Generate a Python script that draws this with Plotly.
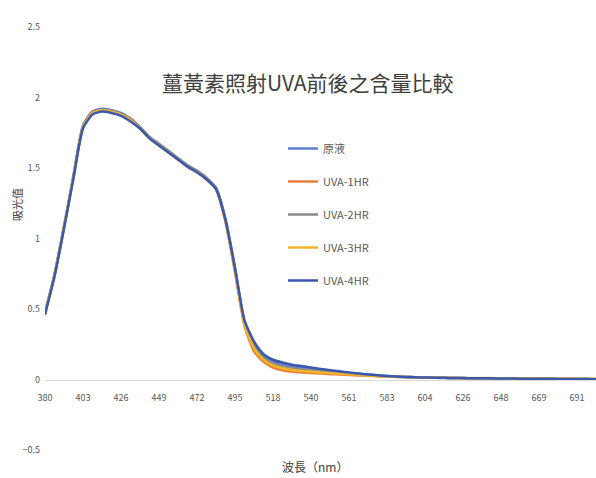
import plotly.graph_objects as go

# Wavelength categories (nm); tick labels are shown on every fourth one
wavelengths = [
    380, 386, 392, 397, 403, 409, 415, 420, 426, 432, 438, 443, 449, 455, 461,
    466, 472, 478, 484, 489, 495, 501, 507, 512, 518, 524, 529, 535, 540, 545,
    551, 556, 561, 567, 572, 578, 583, 588, 594, 599, 604, 610, 615, 621, 626,
    632, 637, 643, 648, 653, 659, 664, 669, 674, 680, 685, 691, 696, 702,
]
tick_wavelengths = [380, 403, 426, 449, 472, 495, 518, 540, 561, 583, 604, 626, 648, 669, 691]

abs_raw = [
    0.47, 0.74, 1.08, 1.44, 1.80, 1.90, 1.92, 1.91, 1.89, 1.85, 1.79, 1.72, 1.67, 1.62, 1.57,
    1.52, 1.48, 1.43, 1.36, 1.14, 0.79, 0.41, 0.26, 0.17, 0.13, 0.11, 0.095, 0.085, 0.077, 0.068,
    0.060, 0.053, 0.046, 0.040, 0.034, 0.029, 0.024, 0.021, 0.018, 0.016, 0.014, 0.013, 0.012, 0.011, 0.010,
    0.009, 0.009, 0.008, 0.007, 0.007, 0.006, 0.006, 0.005, 0.005, 0.004, 0.004, 0.003, 0.003, 0.002,
]
abs_1hr = [
    0.47, 0.74, 1.08, 1.44, 1.79, 1.89, 1.91, 1.90, 1.88, 1.84, 1.78, 1.71, 1.66, 1.61, 1.56,
    1.51, 1.47, 1.42, 1.35, 1.12, 0.76, 0.38, 0.20, 0.125, 0.085, 0.065, 0.055, 0.050, 0.046, 0.042,
    0.038, 0.035, 0.032, 0.029, 0.026, 0.023, 0.020, 0.018, 0.016, 0.014, 0.013, 0.012, 0.011, 0.010, 0.009,
    0.008, 0.008, 0.007, 0.007, 0.006, 0.006, 0.005, 0.005, 0.004, 0.004, 0.004, 0.003, 0.003, 0.002,
]
abs_2hr = [
    0.48, 0.75, 1.09, 1.45, 1.80, 1.90, 1.91, 1.91, 1.88, 1.85, 1.79, 1.72, 1.67, 1.62, 1.57,
    1.52, 1.48, 1.43, 1.36, 1.13, 0.78, 0.40, 0.24, 0.155, 0.115, 0.095, 0.080, 0.072, 0.065, 0.058,
    0.052, 0.047, 0.041, 0.036, 0.031, 0.027, 0.023, 0.020, 0.017, 0.015, 0.014, 0.013, 0.012, 0.011, 0.010,
    0.009, 0.009, 0.008, 0.007, 0.007, 0.006, 0.006, 0.005, 0.005, 0.004, 0.004, 0.003, 0.003, 0.002,
]
abs_3hr = [
    0.47, 0.74, 1.08, 1.44, 1.79, 1.89, 1.91, 1.90, 1.88, 1.84, 1.78, 1.71, 1.66, 1.61, 1.56,
    1.51, 1.47, 1.42, 1.35, 1.12, 0.77, 0.39, 0.22, 0.140, 0.100, 0.080, 0.068, 0.060, 0.055, 0.050,
    0.045, 0.041, 0.037, 0.033, 0.029, 0.025, 0.022, 0.020, 0.018, 0.016, 0.015, 0.014, 0.013, 0.012, 0.011,
    0.011, 0.010, 0.010, 0.009, 0.009, 0.008, 0.008, 0.008, 0.007, 0.007, 0.007, 0.006, 0.006, 0.006,
]
abs_4hr = [
    0.46, 0.73, 1.07, 1.43, 1.78, 1.88, 1.90, 1.89, 1.87, 1.83, 1.78, 1.71, 1.66, 1.61, 1.56,
    1.51, 1.47, 1.42, 1.35, 1.13, 0.79, 0.42, 0.27, 0.18, 0.14, 0.12, 0.105, 0.095, 0.085, 0.075,
    0.066, 0.058, 0.050, 0.043, 0.036, 0.030, 0.025, 0.021, 0.018, 0.016, 0.014, 0.013, 0.012, 0.011, 0.010,
    0.009, 0.009, 0.008, 0.007, 0.007, 0.006, 0.006, 0.005, 0.005, 0.004, 0.004, 0.003, 0.003, 0.002,
]

series_names = ["原液", "UVA-1HR", "UVA-2HR", "UVA-3HR", "UVA-4HR"]
series_values = [abs_raw, abs_1hr, abs_2hr, abs_3hr, abs_4hr]
series_colors = ["#5B7FD0", "#E9803A", "#8A8A8A", "#F0B428", "#3A58B0"]

FONT = "Noto Sans CJK TC, Noto Sans, sans-serif"
x_cats = [str(w) for w in wavelengths]

fig = go.Figure()
for name, vals, color in zip(series_names, series_values, series_colors):
    fig.add_trace(go.Scatter(
        x=x_cats, y=vals, mode="lines", name=name, legendgroup=name,
        line=dict(color=color, width=2.5, shape="spline", smoothing=0.6),
    ))

y_min, y_max = -0.5, 2.5
fig.update_layout(
    width=596, height=478,
    margin=dict(l=45, r=0, t=27, b=28),
    paper_bgcolor="white", plot_bgcolor="white",
    font=dict(family=FONT, color="#595959"),
    showlegend=True,
    legend=dict(
        x=(283 - 45) / 551, y=(450 - 134) / 423, xanchor="left", yanchor="top",
        bgcolor="rgba(0,0,0,0)", font=dict(size=11, color="#595959"),
        tracegroupgap=14, itemwidth=30,
    ),
    xaxis=dict(
        type="category", range=[0, len(wavelengths) - 1],
        tickmode="array", tickvals=[str(w) for w in tick_wavelengths],
        ticktext=[str(w) for w in tick_wavelengths],
        tickangle=0,
        anchor="free", position=(0 - y_min) / (y_max - y_min),
        showline=True, linecolor="#D9D9D9", linewidth=1,
        showgrid=False, zeroline=False, ticks="",
        tickfont=dict(size=9, color="#595959"), ticklabelstandoff=10,
    ),
    yaxis=dict(
        range=[y_min, y_max], dtick=0.5, tick0=0,
        showgrid=False, zeroline=False, showline=False, ticks="",
        tickfont=dict(size=9, color="#595959"), ticklabelstandoff=4,
    ),
    annotations=[
        dict(text="薑黃素照射UVA前後之含量比較", xref="paper", yref="paper",
             x=(308 - 45) / 551, y=(450 - 82) / 423, showarrow=False,
             xanchor="center", yanchor="middle",
             font=dict(size=21, color="#404040", family=FONT)),
        dict(text="吸光值", xref="paper", yref="paper", textangle=-90,
             x=(17 - 45) / 551, y=(450 - 205) / 423, showarrow=False,
             xanchor="center", yanchor="middle",
             font=dict(size=11, color="#404040", family=FONT)),
        dict(text="波長（nm）", xref="paper", yref="paper",
             x=(315 - 45) / 551, y=(450 - 466) / 423, showarrow=False,
             xanchor="center", yanchor="middle",
             font=dict(size=12, color="#404040", family=FONT)),
    ],
)

fig.write_html("out.html")
